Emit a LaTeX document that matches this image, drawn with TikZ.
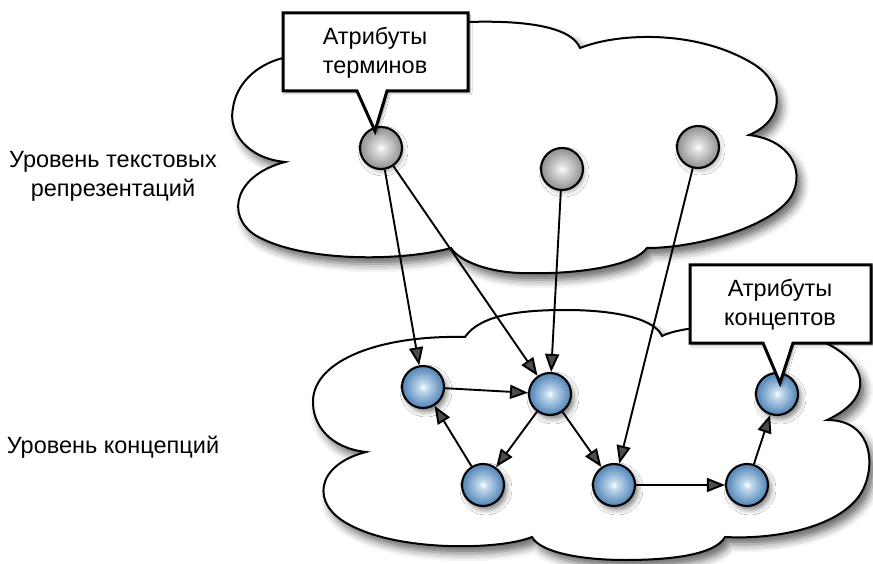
\documentclass[tikz,border=0pt]{standalone}
\usepackage{fontspec}
\setmainfont{Liberation Sans}
\usetikzlibrary{arrows.meta,shadows.blur,calc}

\definecolor{bedge}{RGB}{50,92,138}
\definecolor{bmid}{RGB}{95,143,190}
\definecolor{blight}{RGB}{195,218,238}
\definecolor{gedge}{RGB}{95,95,95}
\definecolor{gmid}{RGB}{155,155,155}
\definecolor{glight}{RGB}{225,225,225}

\pgfdeclareradialshading{blueball}{\pgfpoint{0bp}{0bp}}{color(0bp)=(white); color(5bp)=(blight); color(22bp)=(bmid); color(46bp)=(bedge); color(50bp)=(bedge)}
\pgfdeclareradialshading{grayball}{\pgfpoint{0bp}{0bp}}{color(0bp)=(white); color(5bp)=(glight); color(22bp)=(gmid); color(46bp)=(gedge); color(50bp)=(gedge)}

\tikzset{
  ball/.style={circle, minimum size=42pt, inner sep=0pt, draw=black, line width=2.1pt},
  bball/.style={ball, shading=blueball, blur shadow={shadow xshift=3pt, shadow yshift=-4pt, shadow blur radius=5pt, shadow opacity=50}},
  gball/.style={ball, shading=grayball, blur shadow={shadow xshift=2pt, shadow yshift=-3pt, shadow blur radius=4pt, shadow opacity=30}},
  arr/.style={-{Triangle[length=18pt,width=14pt]}, line width=1.9pt},
  cloudshape/.style={draw=black, line width=2pt, fill=white, blur shadow={shadow xshift=5pt, shadow yshift=-7pt, shadow blur radius=8pt, shadow opacity=60}},
  callout/.style={draw=black, line width=3pt, fill=white, line join=miter, blur shadow={shadow xshift=2pt, shadow yshift=-2pt, shadow blur radius=2pt, shadow opacity=40}},
  lbl/.style={font=\fontsize{23.5}{29}\selectfont, align=center, inner sep=0pt},
}

\begin{document}
\begin{tikzpicture}[x=1pt, y=-1pt]
\useasboundingbox (0,0) rectangle (873,564);

% upper cloud
\path[cloudshape] (285,162)
  .. controls (245,158) and (228,130) .. (233,108)
  .. controls (236,85) and (255,65) .. (283,58)
  .. controls (330,45) and (420,22) .. (468,22)
  .. controls (530,20) and (572,28) .. (580,48)
  .. controls (620,32) and (700,30) .. (755,65)
  .. controls (785,85) and (785,120) .. (749,135)
  .. controls (790,140) and (805,170) .. (792,195)
  .. controls (775,225) and (700,248) .. (647,248)
  .. controls (635,265) and (580,275) .. (520,273)
  .. controls (490,272) and (460,262) .. (451,248)
  .. controls (400,262) and (300,262) .. (255,235)
  .. controls (225,215) and (235,175) .. (285,162) -- cycle;

% lower cloud
\path[cloudshape] (366,452)
  .. controls (330,448) and (312,425) .. (313,400)
  .. controls (315,360) and (380,335) .. (465,337)
  .. controls (480,315) and (520,310) .. (565,310)
  .. controls (620,310) and (655,320) .. (662,336)
  .. controls (690,322) and (790,320) .. (835,348)
  .. controls (870,370) and (870,400) .. (827,420)
  .. controls (870,420) and (875,460) .. (865,485)
  .. controls (850,525) and (780,540) .. (725,537)
  .. controls (715,555) and (670,560) .. (625,560)
  .. controls (580,560) and (540,552) .. (532,537)
  .. controls (500,550) and (400,552) .. (350,525)
  .. controls (310,505) and (315,465) .. (366,452) -- cycle;

% labels
\node[lbl] (lvl1) at (113,176) {Уровень текстовых\\репрезентаций};
\node[lbl] (lvl2) at (113,447) {Уровень концепций};

% term nodes
\node[gball] (t1) at (381,148) {};
\node[gball] (t2) at (562,169) {};
\node[gball] (t3) at (698,147) {};

% concept nodes
\node[bball] (a) at (423,387) {};
\node[bball] (b) at (550,394) {};
\node[bball] (c) at (483,485) {};
\node[bball] (d) at (614,485) {};
\node[bball] (e) at (747,485) {};
\node[bball] (f) at (777,394) {};

% arrows
\draw[arr] (t1) -- (a);
\draw[arr] (t1) -- (b);
\draw[arr] (t2) -- (b);
\draw[arr] (t3) -- (d);
\draw[arr] (a) -- (b);
\draw[arr] (c) -- (a);
\draw[arr] (b) -- (c);
\draw[arr] (b) -- (d);
\draw[arr] (d) -- (e);
\draw[arr] (e) -- (f);

% callouts
\coordinate (tip1) at ($(t1.center)+(-6,-17)$);
\coordinate (tip2) at ($(f.center)+(3,-11)$);
\path[callout] (283,13) -- (468,13) -- (468,91) -- (387,91) -- (tip1) -- (357,91) -- (283,91) -- cycle;
\node[lbl] (attr1) at (375,53) {Атрибуты\\терминов};
\path[callout] (690,265) -- (871,265) -- (871,343) -- (793,343) -- (tip2) -- (763,343) -- (690,343) -- cycle;
\node[lbl] (attr2) at (780,305) {Атрибуты\\концептов};
\end{tikzpicture}
\end{document}
